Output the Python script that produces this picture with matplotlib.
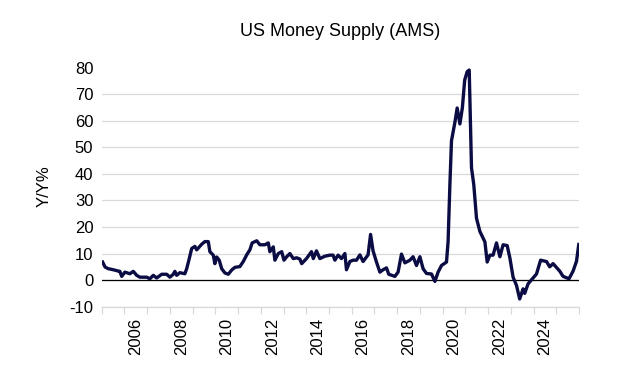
import numpy as np
import matplotlib
matplotlib.use("Agg")
from matplotlib import pyplot as plt

# Data (decimal year, Y/Y %)
years = [
    2005.04, 2005.15, 2005.29, 2005.51, 2005.73, 2005.80, 2005.88, 2006.02,
    2006.24, 2006.39, 2006.54, 2006.68, 2006.98, 2007.12, 2007.27, 2007.42,
    2007.64, 2007.86, 2008.00, 2008.15, 2008.22, 2008.30, 2008.44, 2008.66,
    2008.74, 2008.85, 2008.96, 2009.10, 2009.18, 2009.40, 2009.54, 2009.69,
    2009.76, 2009.91, 2009.98, 2010.06, 2010.17, 2010.28, 2010.42, 2010.57,
    2010.72, 2010.86, 2011.08, 2011.23, 2011.38, 2011.52, 2011.62, 2011.82,
    2011.96, 2012.18, 2012.33, 2012.40, 2012.55, 2012.62, 2012.77, 2012.92,
    2013.02, 2013.14, 2013.28, 2013.43, 2013.58, 2013.72, 2013.80, 2014.01,
    2014.23, 2014.31, 2014.45, 2014.60, 2014.82, 2015.04, 2015.18, 2015.26,
    2015.40, 2015.55, 2015.70, 2015.77, 2015.92, 2016.06, 2016.21, 2016.36,
    2016.50, 2016.72, 2016.83, 2016.94, 2017.09, 2017.24, 2017.38, 2017.53,
    2017.63, 2017.90, 2018.04, 2018.19, 2018.34, 2018.56, 2018.70, 2018.85,
    2019.00, 2019.14, 2019.29, 2019.51, 2019.66, 2019.80, 2019.95, 2020.17,
    2020.24, 2020.32, 2020.39, 2020.54, 2020.64, 2020.76, 2020.87, 2020.97,
    2021.08, 2021.17, 2021.27, 2021.37, 2021.49, 2021.64, 2021.86, 2021.96,
    2022.08, 2022.22, 2022.37, 2022.52, 2022.66, 2022.84, 2022.96, 2023.10,
    2023.25, 2023.39, 2023.54, 2023.61, 2023.76, 2023.98, 2024.13, 2024.31,
    2024.57, 2024.71, 2024.86, 2025.15, 2025.30, 2025.56, 2025.74, 2025.89,
    2025.99,
]
values = [
    6.8, 4.9, 4.3, 3.9, 3.4, 3.3, 1.4, 3.0,
    2.4, 3.3, 1.8, 1.1, 1.1, 0.5, 1.8, 0.8,
    2.2, 2.2, 1.1, 2.2, 3.3, 1.8, 2.8, 2.4,
    4.3, 8.0, 11.9, 12.7, 11.4, 13.5, 14.5, 14.5,
    10.7, 9.4, 6.2, 8.7, 7.5, 4.3, 2.7, 2.2,
    3.8, 4.8, 5.1, 7.0, 9.5, 11.4, 14.0, 14.8,
    13.3, 13.3, 14.0, 10.7, 12.5, 7.5, 10.0, 10.7,
    7.5, 8.8, 10.0, 8.1, 8.4, 7.9, 6.2, 8.1,
    10.7, 8.1, 11.0, 8.1, 9.0, 9.4, 9.4, 7.5,
    9.4, 8.1, 10.0, 3.9, 7.0, 7.5, 7.5, 9.5,
    7.0, 9.5, 17.2, 11.0, 6.8, 3.0, 3.9, 4.6,
    2.2, 1.4, 3.0, 9.8, 6.5, 7.5, 8.8, 5.5,
    8.8, 4.3, 2.5, 2.3, -0.5, 3.0, 5.5, 6.8,
    14.4, 36.0, 52.5, 59.4, 64.8, 58.8, 65.0, 75.3,
    78.5, 79.1, 42.3, 36.0, 23.3, 18.3, 14.4, 6.8,
    9.4, 9.4, 14.0, 8.8, 13.3, 13.0, 8.3, 1.1,
    -2.0, -7.1, -3.3, -5.0, -1.4, 0.8, 2.3, 7.5,
    7.0, 5.0, 6.2, 3.4, 1.4, 0.5, 3.4, 7.1,
    13.4,
]
ytick_values = [-10, 0, 10, 20, 30, 40, 50, 60, 70, 80]
year_ticks = list(range(2005, 2027))
year_labels = [str(y) for y in range(2006, 2025, 2)]

plt.rcParams["font.family"] = ["Liberation Sans", "DejaVu Sans"]
plt.rcParams["axes.unicode_minus"] = False

# Figure
fig = plt.figure(figsize=(6.25, 3.8), dpi=100)
ax = fig.add_axes([0.1627, 0.193, 0.7637, 0.629])

ax.plot(years, values, color="#0c0c45", lw=2.4, solid_joinstyle="round")
ax.axhline(0, color="black", lw=0.9, zorder=1)

# Y axis
ax.set_ylim(-10, 80)
ax.set_yticks(ytick_values)
ax.tick_params(axis="y", length=0, labelsize=12, pad=6)
ax.yaxis.grid(True, color="#d9d9d9", lw=0.9)
ax.set_axisbelow(True)
ax.yaxis.get_major_ticks()[-1].gridline.set_visible(False)
ax.set_ylabel("Y/Y%", fontsize=12)
ax.yaxis.set_label_coords(-0.105, 0.503)

# X axis: ticks at year boundaries, labels centred in the year
ax.set_xlim(2005, 2026)
ax.set_xticks(year_ticks)
ax.set_xticklabels([])
ax.set_xticks([int(y) + 0.5 for y in year_labels], minor=True)
ax.set_xticklabels(year_labels, minor=True, rotation=90, fontsize=12)
ax.tick_params(axis="x", which="major", length=5, color="#d9d9d9", width=0.9)
ax.tick_params(axis="x", which="minor", length=0, pad=8)

# Remove borders
for side in ["top", "right", "left"]:
    ax.spines[side].set_visible(False)
ax.spines["bottom"].set_color("#d9d9d9")
ax.spines["bottom"].set_linewidth(0.9)

fig.text(0.545, 0.918, "US Money Supply (AMS)", ha="center", va="center",
         fontsize=13)

fig.savefig("out.png", dpi=100)
